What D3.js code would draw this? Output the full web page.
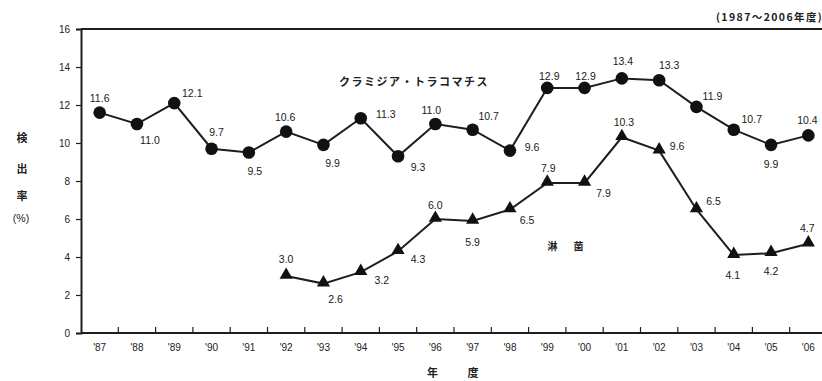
<!DOCTYPE html>
<html>
<head>
<meta charset="utf-8">
<script src="https://cdn.jsdelivr.net/npm/d3@7/dist/d3.min.js"></script>
<style>
  html, body { margin: 0; padding: 0; background: #fff; }
  svg { display: block; font-family: "Liberation Sans", Arial, sans-serif; }
</style>
</head>
<body>
<svg id="chart" width="822" height="381"></svg>
<script>
// Fiscal years 1987–2006
const years = ["'87","'88","'89","'90","'91","'92","'93","'94","'95","'96",
               "'97","'98","'99","'00","'01","'02","'03","'04","'05","'06"];

// Chlamydia trachomatis detection rate (%)
const chlamydia = [11.6, 11.0, 12.1, 9.7, 9.5, 10.6, 9.9, 11.3, 9.3, 11.0,
                   10.7, 9.6, 12.9, 12.9, 13.4, 13.3, 11.9, 10.7, 9.9, 10.4];

// Gonorrhoea detection rate (%), recorded from '92
const gonoYears = ["'92","'93","'94","'95","'96","'97","'98","'99","'00",
                   "'01","'02","'03","'04","'05","'06"];
const gonorrhea = [3.0, 2.6, 3.2, 4.3, 6.0, 5.9, 6.5, 7.9, 7.9, 10.3, 9.6, 6.5, 4.1, 4.2, 4.7];

const yTicks = [0, 2, 4, 6, 8, 10, 12, 14, 16];

// Where each value label sits relative to its marker: [dx, dy]
const chlamydiaLabelPos = [[0,-15],[13,16],[18,-10],[5,-17],[6,18],[-1,-15],[9,18],[25,-4],[20,11],[-4,-14],
                           [16,-14],[22,-4],[2,-12],[1,-12],[1,-17],[10,-15],[16,-11],[18,-11],[0,19],[-1,-15]];
const gonorrheaLabelPos = [[0,-17],[12,15],[21,8],[20,8],[0,-14],[0,21],[17,10],[1,-15],[19,10],
                           [2,-15],[18,-5],[17,-9],[-1,20],[0,18],[-1,-16]];

const svg = d3.select("#chart");
const ink = "#1e1e1e";
const cjk = "'Noto Sans CJK JP', sans-serif";

const x = d3.scaleBand().domain(years).range([81, 827]).padding(0);
const y = d3.scaleLinear().domain([0, 16]).range([333, 29]);
const cx = d => x(d) + x.bandwidth() / 2;

// Frame: top rule, left and bottom axes
svg.append("line").attr("x1", 81).attr("x2", 822).attr("y1", y(16)).attr("y2", y(16))
  .attr("stroke", ink).attr("stroke-width", 2);

const yAxis = svg.append("g").attr("transform", "translate(81,0)")
  .call(d3.axisLeft(y).tickValues(yTicks).tickSize(5).tickPadding(6).tickFormat(d3.format("d")));
yAxis.select(".domain").attr("stroke", ink).attr("stroke-width", 2);
yAxis.selectAll(".tick line").attr("stroke", ink).attr("stroke-width", 1.2);
yAxis.selectAll("text").attr("fill", "#222").style("font-size", "10px");

const xAxis = svg.append("g").attr("transform", "translate(0,333)")
  .call(d3.axisBottom(x).tickSize(0).tickPadding(11));
xAxis.select(".domain").attr("d", "M81,0H822").attr("stroke", ink).attr("stroke-width", 2);
xAxis.selectAll("text").attr("fill", "#222").style("font-size", "10px");

// Inward ticks on the boundaries between years
svg.append("g").selectAll("line")
  .data(years.slice(1))
  .join("line")
  .attr("x1", d => x(d)).attr("x2", d => x(d))
  .attr("y1", 333).attr("y2", 327)
  .attr("stroke", ink).attr("stroke-width", 1.2);

// Axis titles
const yTitle = ["検", "出", "率"];
const yTitleY = [142, 173, 200];
svg.append("g").selectAll("text").data(yTitle).join("text")
  .attr("x", 22).attr("y", (d, i) => yTitleY[i])
  .attr("text-anchor", "middle")
  .attr("fill", "#222")
  .style("font-family", cjk)
  .style("font-size", "11px").style("font-weight", "bold")
  .text(d => d);
svg.append("text").attr("x", 21).attr("y", 222).attr("text-anchor", "middle")
  .attr("fill", "#222").style("font-size", "10.5px").text("(%)");

svg.append("text").attr("x", 454).attr("y", 377).attr("text-anchor", "middle")
  .attr("fill", "#222")
  .style("font-family", cjk)
  .style("font-size", "11px").style("font-weight", "bold").style("letter-spacing", "2.5px")
  .attr("xml:space", "preserve")
  .text("年　　度");

svg.append("text").attr("x", 716).attr("y", 21)
  .attr("fill", "#222")
  .style("font-family", cjk)
  .style("font-size", "10.5px").style("font-weight", "bold").style("letter-spacing", "1.4px")
  .text("(1987〜2006年度)");

// Series names
svg.append("text").attr("x", 414).attr("y", 86).attr("text-anchor", "middle")
  .attr("fill", "#222")
  .style("font-family", cjk)
  .style("font-size", "11px").style("font-weight", "bold").style("letter-spacing", "1.5px")
  .text("クラミジア・トラコマチス");
svg.append("text").attr("x", 567).attr("y", 250).attr("text-anchor", "middle")
  .attr("fill", "#222")
  .style("font-family", cjk)
  .style("font-size", "10px").style("font-weight", "bold").style("letter-spacing", "3px")
  .attr("xml:space", "preserve")
  .text("淋　菌");

// Lines
const line = d3.line().x(d => cx(d[0])).y(d => y(d[1]));
const chlaData = years.map((d, i) => [d, chlamydia[i]]);
const gonoData = gonoYears.map((d, i) => [d, gonorrhea[i]]);

svg.append("path").datum(chlaData).attr("d", line)
  .attr("fill", "none").attr("stroke", ink).attr("stroke-width", 2);
svg.append("path").datum(gonoData).attr("d", line)
  .attr("fill", "none").attr("stroke", ink).attr("stroke-width", 2);

// Markers
svg.append("g").selectAll("circle").data(chlaData).join("circle")
  .attr("cx", d => cx(d[0])).attr("cy", d => y(d[1])).attr("r", 6.3)
  .attr("fill", "#111");

const tri = d3.symbol().type(d3.symbolTriangle).size(75);
svg.append("g").selectAll("path").data(gonoData).join("path")
  .attr("transform", d => `translate(${cx(d[0])},${y(d[1]) - 1})`)
  .attr("d", tri).attr("fill", "#111");

// Value labels
function labels(data, pos) {
  svg.append("g").selectAll("text").data(data).join("text")
    .attr("x", (d, i) => cx(d[0]) + pos[i][0])
    .attr("y", (d, i) => y(d[1]) + pos[i][1] + 4)
    .attr("text-anchor", "middle")
    .attr("fill", "#1a1a1a")
    .style("font-size", "10.5px")
    .text(d => d[1].toFixed(1));
}
labels(chlaData, chlamydiaLabelPos);
labels(gonoData, gonorrheaLabelPos);
</script>
</body>
</html>
